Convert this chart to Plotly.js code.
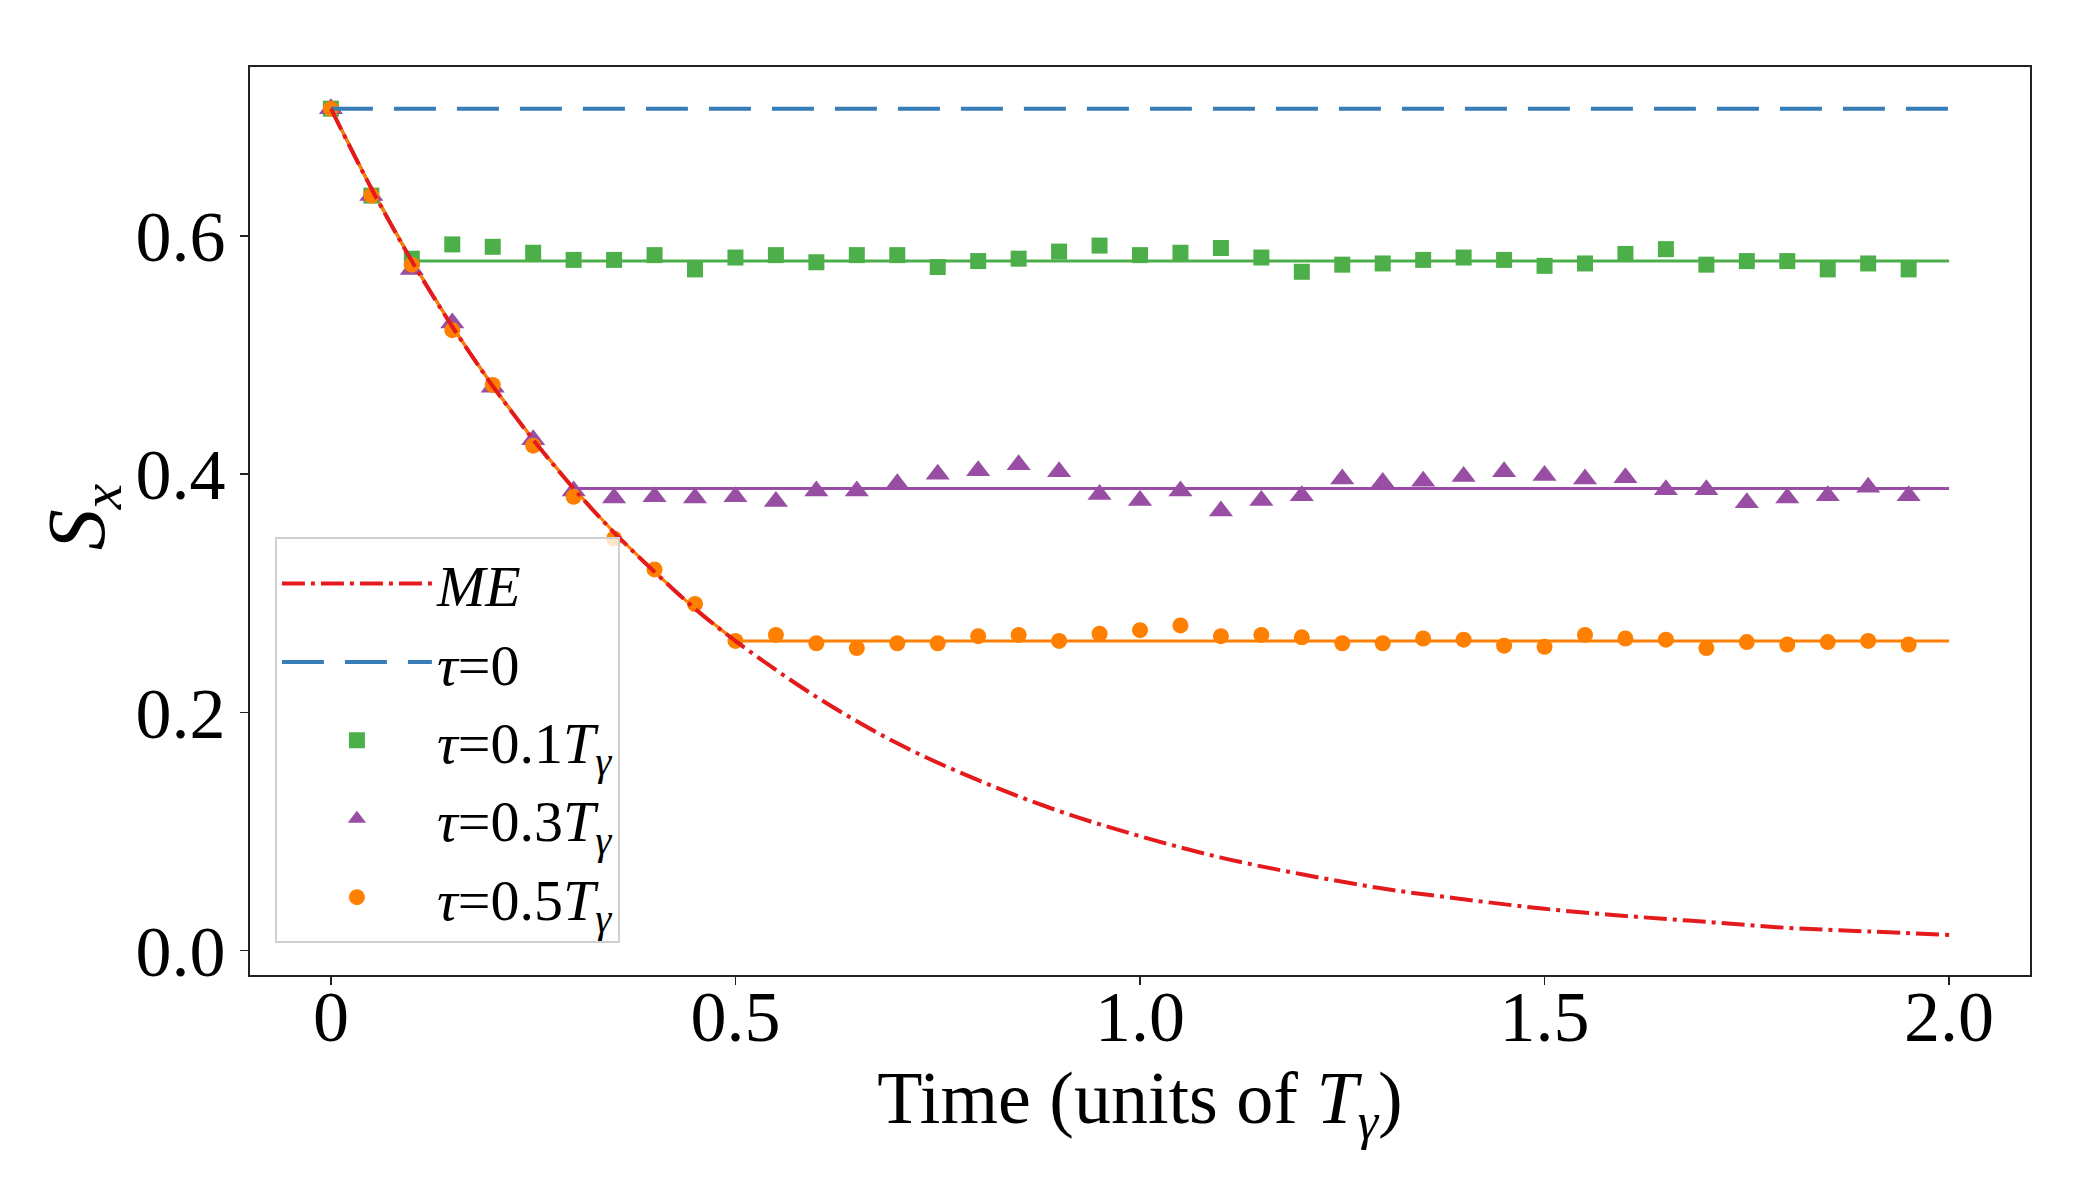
<!DOCTYPE html>
<html>
<head>
<meta charset="utf-8">
<script src="https://cdn.plot.ly/plotly-3.0.1.min.js"></script>
<style>
  body { margin: 0; background: #fff; }
  #myDiv { width: 2100px; height: 1200px; }
</style>
</head>
<body>
<div id="myDiv"></div>
<script>
// master equation curve
var meT = [0, 0.05, 0.1, 0.15, 0.2, 0.25, 0.3, 0.35, 0.4, 0.45, 0.5, 0.6, 0.7, 0.8, 0.9, 1.0,
           1.1, 1.2, 1.3, 1.4, 1.5, 1.6, 1.7, 1.8, 1.9, 2.0];
var meS = [0.707, 0.640, 0.579, 0.524, 0.474, 0.429, 0.388, 0.351, 0.318, 0.287, 0.260, 0.213,
           0.174, 0.143, 0.117, 0.096, 0.078, 0.064, 0.052, 0.043, 0.035, 0.029, 0.024, 0.019,
           0.016, 0.013];

// tau = 0 reference
var tau0T = [0, 2.0];
var tau0S = [0.707, 0.707];

// simulated points, t = 0 ... 1.95
var simT = [0, 0.05, 0.1, 0.15, 0.2, 0.25, 0.3, 0.35, 0.4, 0.45, 0.5, 0.55, 0.6, 0.65, 0.7, 0.75,
            0.8, 0.85, 0.9, 0.95, 1.0, 1.05, 1.1, 1.15, 1.2, 1.25, 1.3, 1.35, 1.4, 1.45, 1.5,
            1.55, 1.6, 1.65, 1.7, 1.75, 1.8, 1.85, 1.9, 1.95];
var tau01S = [0.707, 0.634, 0.581, 0.593, 0.591, 0.586, 0.580, 0.580, 0.584, 0.572, 0.582, 0.584,
              0.578, 0.584, 0.584, 0.574, 0.579, 0.581, 0.587, 0.592, 0.584, 0.586, 0.590, 0.582,
              0.570, 0.576, 0.577, 0.580, 0.582, 0.580, 0.575, 0.577, 0.585, 0.589, 0.576, 0.579,
              0.579, 0.572, 0.577, 0.572];
var tau03S = [0.707, 0.634, 0.572, 0.527, 0.473, 0.429, 0.386, 0.380, 0.381, 0.380, 0.381, 0.377,
              0.386, 0.386, 0.392, 0.400, 0.403, 0.408, 0.402, 0.383, 0.378, 0.386, 0.369, 0.378,
              0.382, 0.396, 0.393, 0.394, 0.398, 0.402, 0.399, 0.396, 0.397, 0.387, 0.387, 0.376,
              0.380, 0.382, 0.389, 0.382];
var tau05S = [0.707, 0.634, 0.576, 0.521, 0.475, 0.424, 0.381, 0.346, 0.320, 0.291, 0.260, 0.265,
              0.258, 0.254, 0.258, 0.258, 0.264, 0.265, 0.260, 0.266, 0.269, 0.273, 0.264, 0.265,
              0.263, 0.258, 0.258, 0.262, 0.261, 0.256, 0.255, 0.265, 0.262, 0.261, 0.254, 0.259,
              0.257, 0.259, 0.260, 0.257];

// theory lines for each tau (follow ME, then flat)
var line01T = [0, 0.05, 0.1, 2.0];
var line01S = [0.707, 0.640, 0.579, 0.579];
var line03T = [0, 0.05, 0.1, 0.15, 0.2, 0.25, 0.3, 2.0];
var line03S = [0.707, 0.640, 0.579, 0.524, 0.474, 0.429, 0.388, 0.388];
var line05T = [0, 0.05, 0.1, 0.15, 0.2, 0.25, 0.3, 0.35, 0.4, 0.45, 0.5, 2.0];
var line05S = [0.707, 0.640, 0.579, 0.524, 0.474, 0.429, 0.388, 0.351, 0.318, 0.287, 0.260, 0.260];

var xTickVals = [0, 0.5, 1.0, 1.5, 2.0];
var xTickText = ['0', '0.5', '1.0', '1.5', '2.0'];
var yTickVals = [0, 0.2, 0.4, 0.6];
var yTickText = ['0.0', '0.2', '0.4', '0.6'];

var red = '#e41a1c', blue = '#377eb8', green = '#4daf4a', purple = '#984ea3', orange = '#ff7f00';
var serif = 'Liberation Serif, DejaVu Serif, serif';

function theory(x, y, c) {
    return { x: x, y: y, type: 'scatter', mode: 'lines', showlegend: false, hoverinfo: 'skip',
             line: { color: c, width: 3 } };
}
function points(x, y, c, sym, sz, name, rank) {
    return { x: x, y: y, type: 'scatter', mode: 'markers', name: name, legendrank: rank,
             marker: { color: c, symbol: sym, size: sz, line: { width: 0 } } };
}

var data = [
    theory(line01T, line01S, green),
    theory(line03T, line03S, purple),
    theory(line05T, line05S, orange),
    points(simT, tau01S, green, 'square', 16, '<i>τ</i>=0.1<i>T</i><sub><i>γ</i></sub>', 3),
    points(simT, tau03S, purple, 'triangle-up', 21, '<i>τ</i>=0.3<i>T</i><sub><i>γ</i></sub>', 4),
    points(simT, tau05S, orange, 'circle', 16, '<i>τ</i>=0.5<i>T</i><sub><i>γ</i></sub>', 5),
    { x: tau0T, y: tau0S, type: 'scatter', mode: 'lines', name: '<i>τ</i>=0', legendrank: 2,
      line: { color: blue, width: 4, dash: '42px,21px' } },
    { x: meT, y: meS, type: 'scatter', mode: 'lines', name: '<i>ME</i>', legendrank: 1,
      line: { color: red, width: 4, dash: '23px,6px,4px,6px', shape: 'spline' } }
];

var axisBase = {
    showgrid: false, zeroline: false, showline: true, mirror: true,
    linecolor: '#222', linewidth: 2, ticks: 'outside', ticklen: 8, tickwidth: 1.5,
    tickcolor: '#222', tickfont: { family: serif, size: 72, color: '#000' }
};

var layout = {
    width: 2100, height: 1200,
    paper_bgcolor: '#fff', plot_bgcolor: '#fff',
    margin: { l: 250, r: 70, t: 67, b: 225 },
    font: { family: serif, size: 72, color: '#000' },
    xaxis: Object.assign({}, axisBase, {
        range: [-0.1, 2.1], tickmode: 'array', tickvals: xTickVals, ticktext: xTickText,
        ticklabelstandoff: -30,
        title: { text: 'Time (units of <i>T</i><sub><i>γ</i></sub>)', standoff: 0,
                 font: { family: serif, size: 74 } }
    }),
    yaxis: Object.assign({}, axisBase, {
        range: [-0.0206, 0.742], tickmode: 'array', tickvals: yTickVals, ticktext: yTickText
    }),
    // y label placed as a rotated annotation so it can sit close to the tick labels
    annotations: [{
        text: '<i>S</i><sub><i>x</i></sub>', xref: 'paper', yref: 'paper',
        x: -0.094, y: 0.505, xanchor: 'center', yanchor: 'middle', textangle: -90,
        showarrow: false, font: { family: serif, size: 82, color: '#000' }
    }],
    legend: {
        x: 0.014, y: 0.482, xanchor: 'left', yanchor: 'top',
        bgcolor: 'rgba(255,255,255,0.8)', bordercolor: '#d0d0d0', borderwidth: 2,
        font: { family: serif, size: 58 }, itemwidth: 150, tracegroupgap: 0
    },
    showlegend: true
};

Plotly.newPlot('myDiv', data, layout, { staticPlot: true });
</script>
</body>
</html>
